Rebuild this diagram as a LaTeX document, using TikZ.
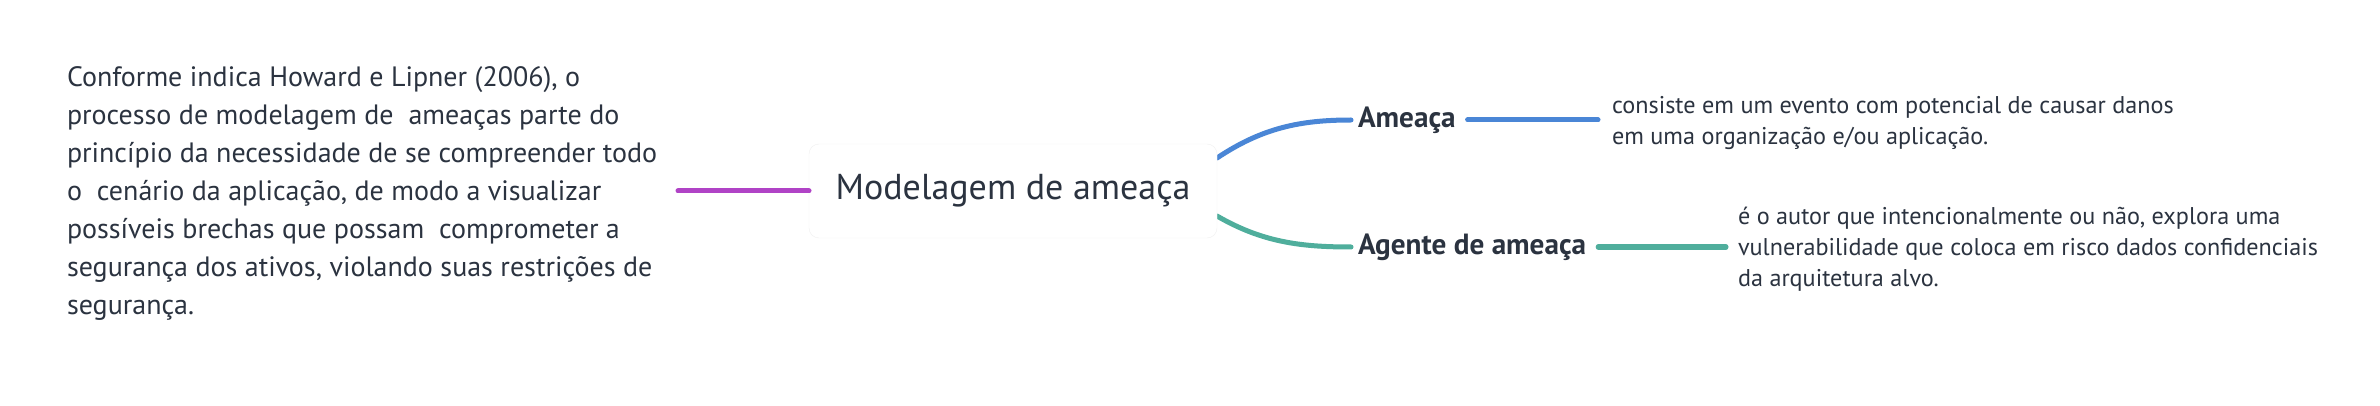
\documentclass[tikz,border=0pt]{standalone}
\usepackage{fontspec}
\setmainfont{PT Sans}
\definecolor{txt}{HTML}{2B3340}
\definecolor{cpurple}{HTML}{B043C6}
\definecolor{cblue}{HTML}{4A86D6}
\definecolor{cteal}{HTML}{4FAE9C}
\begin{document}
\begin{tikzpicture}[x=1pt,y=-1pt,
  every node/.style={text=txt, inner sep=0pt, outer sep=0pt},
  conn/.style={line width=5pt, line cap=round},
  bodytext/.style={align=left, anchor=west, font=\fontsize{28}{38}\selectfont},
  desctext/.style={align=left, anchor=west, font=\fontsize{24.2}{31}\selectfont},
  topicbox/.style={draw=black!6, fill=white, rounded corners=10pt, minimum width=408pt, minimum height=94pt, font=\fontsize{36}{40}\selectfont},
  sublabel/.style={anchor=west, font=\fontsize{29.2}{32}\selectfont\bfseries}
]
\useasboundingbox (0,0) rectangle (2380,406);
\fill[white] (0,0) rectangle (2380,406);

\node[bodytext] (intro) at (67,193) {Conforme indica Howard e Lipner (2006), o\\
processo de modelagem de \ ameaças parte do\\
princípio da necessidade de se compreender todo\\
o \ cenário da aplicação, de modo a visualizar\\
possíveis brechas que possam \ comprometer a\\
segurança dos ativos, violando suas restrições de\\
segurança.};

\coordinate (introend) at (678,191);
\coordinate (bstart) at (1217,158);
\coordinate (tstart) at (1217,216);

\node[sublabel] (amea) at (1358,120) {Ameaça};
\node[sublabel] (agente) at (1358,247) {Agente de ameaça};

\draw[conn, cblue] (bstart) .. controls (1262,128) and (1300,120) .. ([xshift=-7pt]amea.west);
\draw[conn, cteal] (tstart) .. controls (1262,242) and (1300,247) .. ([xshift=-7pt]agente.west);

\node[topicbox] (topic) at (1013,191) {Modelagem de ameaça};

\draw[conn, cpurple] (introend) -- (topic.west);

\node[desctext] (d1) at (1612,123) {consiste em um evento com potencial de causar danos\\
em uma organização e/ou aplicação.};
\node[desctext] (d2) at (1738,249) {é o autor que intencionalmente ou não, explora uma\\
vulnerabilidade que coloca em risco dados confidenciais\\
da arquitetura alvo.};

\draw[conn, cblue] ([xshift=12pt]amea.east) -- ([xshift=-14pt]amea.east -| d1.west);
\draw[conn, cteal] ([xshift=12pt]agente.east) -- ([xshift=-12pt]agente.east -| d2.west);
\end{tikzpicture}
\end{document}
